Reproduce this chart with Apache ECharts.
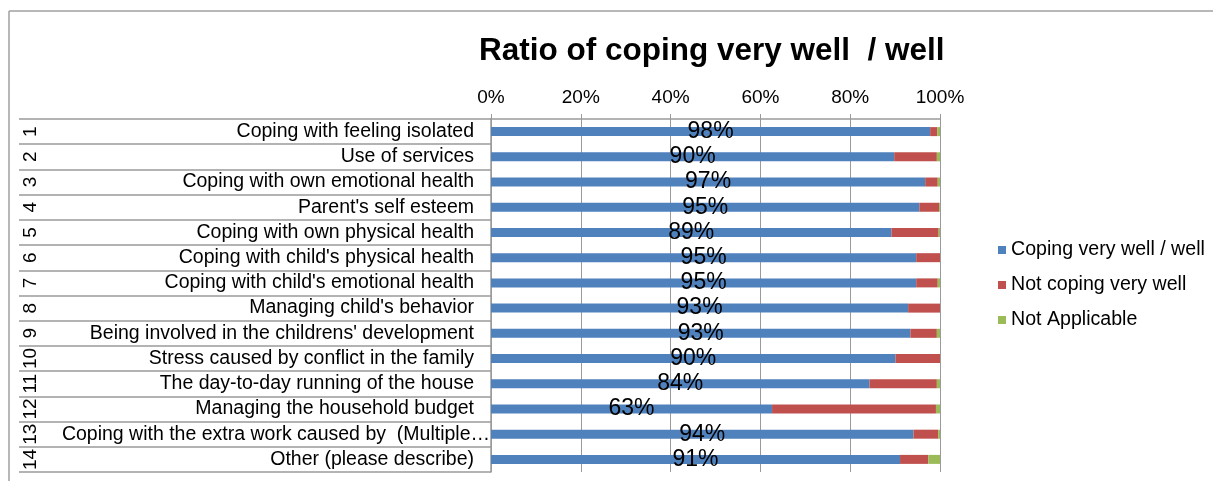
<!DOCTYPE html>
<html>
<head>
<meta charset="utf-8">
<script src="https://cdn.jsdelivr.net/npm/echarts@6/dist/echarts.min.js"></script>
<style>
  html, body { margin: 0; padding: 0; background: #fff; }
  #chart { width: 1213px; height: 481px; }
</style>
</head>
<body>
<div id="chart"></div>
<script>
// 各项目名称
const categories = [
  'Coping with feeling isolated',
  'Use of services',
  'Coping with own emotional health',
  "Parent's self esteem",
  'Coping with own physical health',
  "Coping with child's physical health",
  "Coping with child's emotional health",
  "Managing child's behavior",
  "Being involved in the childrens' development",
  'Stress caused by conflict in the family',
  'The day-to-day running of the house',
  'Managing the household budget',
  'Coping with the extra work caused by  (Multiple\u2026',
  'Other (please describe)'
];
const rowNumbers = ['1', '2', '3', '4', '5', '6', '7', '8', '9', '10', '11', '12', '13', '14'];
const xTicks = [0, 20, 40, 60, 80, 100];

// percentages
const copingWell = [97.8, 89.8, 96.7, 95.4, 89.2, 94.7, 94.7, 92.9, 93.4, 90.1, 84.3, 62.6, 94.1, 91.1];
const notCoping = [1.6, 9.5, 2.8, 4.4, 10.5, 5.3, 4.8, 7.1, 5.9, 9.9, 15.0, 36.5, 5.5, 6.3];
const notApplicable = [0.6, 0.7, 0.5, 0.2, 0.3, 0, 0.5, 0, 0.7, 0, 0.7, 0.9, 0.4, 2.6];

const FONT = 'Liberation Sans, Arial, sans-serif';
const GRAY = '#9a9a9a';

// the truncated label runs past the label margin up to the axis
const categoryData = categories.map(name =>
  name.endsWith('\u2026') ? { value: name, textStyle: { padding: [0, -16, 0, 0] } } : name
);

const chart = echarts.init(document.getElementById('chart'));

chart.setOption({
  animation: false,
  textStyle: { fontFamily: FONT },
  color: ['#4F81BD', '#C0504D', '#9BBB59'],
  title: {
    text: 'Ratio of coping very well  / well',
    left: 474,
    top: 30,
    textStyle: { fontFamily: FONT, fontSize: 31.5, fontWeight: 'bold', color: '#000' }
  },
  legend: {
    orient: 'vertical',
    left: 993,
    top: 235,
    itemWidth: 8,
    itemHeight: 8,
    itemGap: 15,
    icon: 'rect',
    textStyle: { fontFamily: FONT, fontSize: 19.6, color: '#000' },
    data: ['Coping very well / well', 'Not coping very well', 'Not Applicable']
  },
  grid: { left: 491, right: 273, top: 119, bottom: 9 },
  xAxis: {
    type: 'value',
    position: 'top',
    min: xTicks[0],
    max: xTicks[xTicks.length - 1],
    interval: 20,
    axisLine: { show: true, lineStyle: { color: GRAY, width: 1.5 } },
    axisTick: { show: true, length: 5, lineStyle: { color: GRAY } },
    axisLabel: { formatter: '{value}%', fontSize: 19, color: '#000', margin: 12 },
    splitLine: { show: true, lineStyle: { color: GRAY, width: 1 } }
  },
  yAxis: [
    {
      type: 'category',
      inverse: true,
      data: categoryData,
      axisLine: { show: true, lineStyle: { color: GRAY, width: 1.5 } },
      axisTick: { show: true, interval: 0, length: 472, lineStyle: { color: GRAY, width: 1.5 } },
      axisLabel: { fontSize: 19.5, color: '#000', margin: 17, interval: 0 }
    },
    {
      type: 'category',
      inverse: true,
      position: 'left',
      offset: 451,
      data: rowNumbers,
      axisLine: { show: false },
      axisTick: { show: false },
      axisLabel: { fontSize: 19, color: '#000', rotate: 90, margin: 0, interval: 0 }
    }
  ],
  series: [
    {
      name: 'Coping very well / well',
      type: 'bar',
      stack: 'total',
      barWidth: 9,
      data: copingWell,
      label: {
        show: true,
        position: 'inside',
        color: '#000',
        fontSize: 23,
        formatter: p => Math.round(p.value) + '%'
      }
    },
    { name: 'Not coping very well', type: 'bar', stack: 'total', barWidth: 9, data: notCoping },
    { name: 'Not Applicable', type: 'bar', stack: 'total', barWidth: 9, data: notApplicable }
  ],
  graphic: [
    { type: 'line', shape: { x1: 9, y1: 11, x2: 1213, y2: 11 }, style: { stroke: '#a0a0a0', lineWidth: 1.5 } },
    { type: 'line', shape: { x1: 9, y1: 11, x2: 9, y2: 481 }, style: { stroke: '#a0a0a0', lineWidth: 1.5 } }
  ]
});
</script>
</body>
</html>
